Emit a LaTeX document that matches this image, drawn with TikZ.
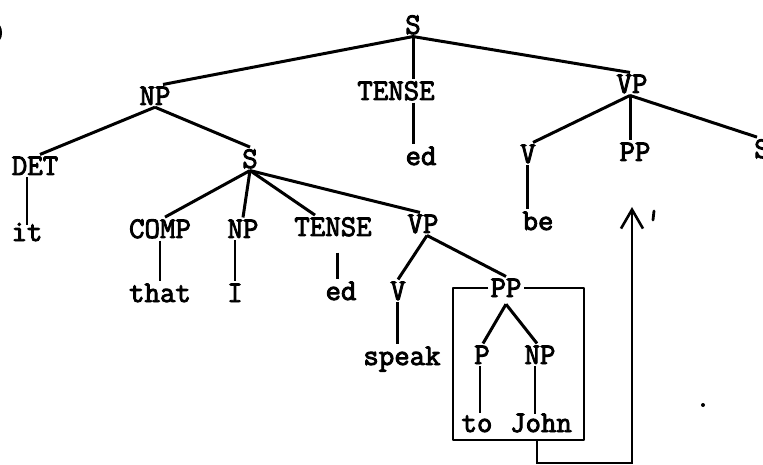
\documentclass[tikz,border=0pt]{standalone}
\usepackage{fontspec}
\newfontfamily\tw[FakeBold=3]{Latin Modern Mono}
\usetikzlibrary{arrows.meta}
\begin{document}
\begin{tikzpicture}[x=1pt,y=-1pt,
  lbl/.style={font=\tw\fontsize{30}{34}\selectfont, inner sep=2pt, anchor=base},
  edge/.style={line width=3pt},
  thin/.style={line width=2.5pt}]
\useasboundingbox (0,0) rectangle (763,465);
% labels
\node[lbl] (paren) at (-1,42) {)};
\node[lbl] (S0) at (413,34) {S};
\node[lbl] (NP1) at (155,105) {NP};
\node[lbl] (T1) at (396,100) {TENSE};
\node[lbl] (VP1) at (632,93) {VP};
\node[lbl] (ed1) at (421,165) {ed};
\node[lbl] (DET) at (35,175) {DET};
\node[lbl] (S1) at (250,168) {S};
\node[lbl] (V1) at (528,163) {V};
\node[lbl] (PP1) at (635,161) {PP};
\node[lbl] (S2) at (762,158) {S};
\node[lbl] (be) at (538,230) {be};
\node[lbl] (it) at (27,241) {it};
\node[lbl] (COMP) at (160,238) {COMP};
\node[lbl] (NP2) at (243,238) {NP};
\node[lbl] (T2) at (333,236) {TENSE};
\node[lbl] (VP2) at (423,233) {VP};
\node[lbl] (that) at (160,302) {that};
\node[lbl] (I) at (235,302) {I};
\node[lbl] (ed2) at (341,300) {ed};
\node[lbl] (V2) at (398,300) {V};
\node[lbl] (PP2) at (506,297) {PP};
\node[lbl] (speak) at (402,365) {speak};
\node[lbl] (P) at (482,364) {P};
\node[lbl] (NP3) at (540,364) {NP};
\node[lbl] (to) at (477,432) {to};
\node[lbl] (John) at (541,432) {John};
% tree edges
\draw[edge] (S0.south) -- (NP1.north -| 163,0);
\draw[edge] (S0.south) -- (T1.north -| S0.south);
\draw[edge] (S0.south) -- ([xshift=-2pt]VP1.north);
\draw[edge] (T1.south -| S0.south) -- (ed1.north -| S0.south);
\draw[edge] (NP1.south) -- ([xshift=5pt]DET.north);
\draw[edge] (NP1.south) -- (S1.north);
\draw[thin] (DET.south -| it) -- ([yshift=-4pt]it.north);
\draw[edge] (S1.south) -- ([xshift=5pt]COMP.north);
\draw[edge] (S1.south) -- (NP2.north);
\draw[edge] (S1.south) -- ([xshift=-18pt]T2.north);
\draw[edge] (S1.south) -- ([xshift=-3pt]VP2.north);
\draw[thin] (COMP.south) -- (that.north);
\draw[thin] (NP2.south -| I) -- (I.north);
\draw[edge] ([yshift=-14pt]T2.south -| 337,0) -- (ed2.north -| 337,0);
\draw[edge] ([xshift=-2pt]VP1.south) -- ([xshift=5pt]V1.north);
\draw[edge] ([xshift=-2pt]VP1.south) -- (PP1.north -| 630,0);
\draw[edge] ([xshift=-2pt]VP1.south) -- ([xshift=-5pt]S2.north);
\draw[edge] (V1.south -| 527,0) -- (be.north -| 527,0);
\draw[edge] ([xshift=4pt]VP2.south) -- (V2.north);
\draw[edge] ([xshift=4pt]VP2.south) -- (PP2.north);
\draw[edge] (V2.south -| 397,0) -- (speak.north -| 397,0);
\draw[edge] ([yshift=-5pt]PP2.south) -- ([xshift=1pt]P.north);
\draw[edge] ([yshift=-5pt]PP2.south) -- ([xshift=-3pt]NP3.north);
\draw[thin] (P.south -| 480,0) -- (to.north -| 480,0);
\draw[thin] (NP3.south -| 535,0) -- ([yshift=-3pt]John.north -| 535,0);
% box round the PP
\coordinate (bxl) at (453,440);
\coordinate (bxr) at (584,440);
\draw[thin, line join=round] (PP2.west) -- (PP2.west -| bxl) -- (bxl) -- (bxr) -- (PP2.east -| bxr) -- (PP2.east);
% connector to the upper PP
\coordinate (bxm) at (537,440);
\coordinate (c1) at (537,463);
\coordinate (c2) at (632,463);
\coordinate (tip) at (632,207);
\draw[thin, -{Straight Barb[length=19pt,width=22pt,line width=2.6pt]}] (bxm) -- (c1) -- (c2) -- (tip);
% stray marks
\draw[line width=2.8pt, line cap=round] (654,211) -- (653,220);
\fill (703,405) circle (2pt);
\end{tikzpicture}
\end{document}
